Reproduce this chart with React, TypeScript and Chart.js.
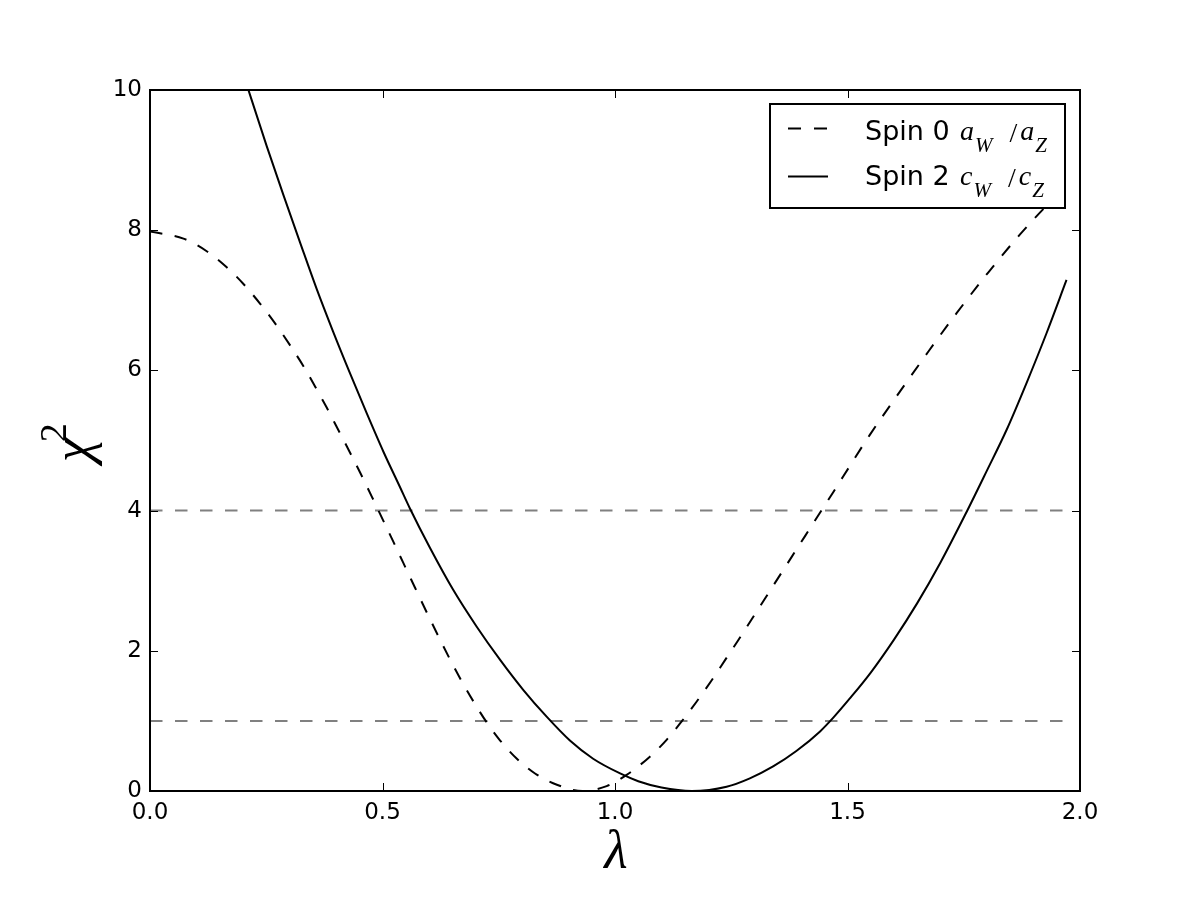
import React, { useEffect, useRef } from "react";
import { Chart, registerables } from "chart.js";

Chart.register(...registerables);

// ---- data ----
const spin0Lambda = [
  0, 0.072, 0.122, 0.165, 0.2, 0.237, 0.269, 0.301, 0.33, 0.355, 0.38, 0.405, 0.43, 0.455,
  0.477, 0.495, 0.523, 0.545, 0.57, 0.595, 0.62, 0.645, 0.67, 0.699, 0.724, 0.753, 0.789,
  0.828, 0.875, 0.93, 0.982, 1.025, 1.075, 1.111, 1.143, 1.175, 1.208, 1.237, 1.265, 1.294,
  1.323, 1.351, 1.38, 1.409, 1.437, 1.47, 1.491, 1.548, 1.613, 1.674, 1.735, 1.803, 1.871,
  1.921, 1.97,
];
const spin0Chi2 = [
  7.98, 7.88, 7.7, 7.47, 7.24, 6.95, 6.67, 6.36, 6.06, 5.77, 5.47, 5.15, 4.83, 4.5, 4.2,
  3.95, 3.56, 3.25, 2.9, 2.55, 2.21, 1.88, 1.57, 1.24, 0.98, 0.72, 0.46, 0.25, 0.09, 0.0,
  0.07, 0.23, 0.49, 0.73, 0.99, 1.27, 1.58, 1.87, 2.15, 2.45, 2.75, 3.04, 3.34, 3.64, 3.93,
  4.27, 4.49, 5.08, 5.7, 6.27, 6.82, 7.4, 7.94, 8.3, 8.62,
];
const spin2Lambda = [
  0.2, 0.251, 0.287, 0.323, 0.358, 0.394, 0.43, 0.466, 0.502, 0.538, 0.559, 0.602, 0.652,
  0.703, 0.753, 0.803, 0.853, 0.903, 0.953, 1.011, 1.05, 1.1, 1.165, 1.24, 1.29, 1.34, 1.39,
  1.441, 1.47, 1.505, 1.55, 1.6, 1.65, 1.7, 1.753, 1.799, 1.842, 1.885, 1.928, 1.971,
];
const spin2Chi2 = [
  10.24, 9.2, 8.5, 7.82, 7.17, 6.55, 5.96, 5.39, 4.84, 4.33, 4.03, 3.47, 2.87, 2.34, 1.87,
  1.44, 1.06, 0.72, 0.46, 0.25, 0.14, 0.05, 0.0, 0.06, 0.18, 0.35, 0.57, 0.85, 1.05, 1.32,
  1.69, 2.16, 2.68, 3.26, 3.94, 4.56, 5.15, 5.82, 6.53, 7.29,
];
const refLevels = [4, 1];
const refLambdaRange = [0, 1.97];
const xTicks = [0, 0.5, 1.0, 1.5, 2.0];
const yTicks = [0, 2, 4, 6, 8, 10];
const legendLabels = ["Spin 0", "Spin 2"];
const legendMath = [
  ["a", "W", "a", "Z"],
  ["c", "W", "c", "Z"],
];
const xTitle = "λ";
const yTitle = "χ";
const yTitleSup = "2";

const MATH_FONT = "'Liberation Serif', 'DejaVu Serif', serif";
const SANS = "'DejaVu Sans', sans-serif";

const decorPlugin = {
  id: "decor",
  afterDraw(chart: any) {
    const { ctx, chartArea: a, scales } = chart;
    const xs = scales.x;
    const ys = scales.y;
    ctx.save();
    // inward ticks on all four sides
    ctx.strokeStyle = "#000";
    ctx.lineWidth = 1;
    ctx.setLineDash([]);
    ctx.beginPath();
    xTicks.forEach((v) => {
      const p = Math.round(xs.getPixelForValue(v)) + 0.5;
      ctx.moveTo(p, a.bottom);
      ctx.lineTo(p, a.bottom - 8);
      ctx.moveTo(p, a.top);
      ctx.lineTo(p, a.top + 8);
    });
    yTicks.forEach((v) => {
      const p = Math.round(ys.getPixelForValue(v)) + 0.5;
      ctx.moveTo(a.left, p);
      ctx.lineTo(a.left + 8, p);
      ctx.moveTo(a.right, p);
      ctx.lineTo(a.right - 8, p);
    });
    ctx.stroke();
    // frame
    ctx.lineWidth = 2;
    ctx.strokeRect(a.left, a.top, a.right - a.left, a.bottom - a.top);

    // legend
    const bx = a.right - 310;
    const by = a.top + 14;
    const bw = 295;
    const bh = 104;
    ctx.fillStyle = "#fff";
    ctx.fillRect(bx, by, bw, bh);
    ctx.strokeStyle = "#000";
    ctx.lineWidth = 2;
    ctx.strokeRect(bx, by, bw, bh);
    const sampleY = [by + 24.5, by + 72.5];
    const textBase = [by + 36, by + 81];
    legendLabels.forEach((label, i) => {
      const ly = sampleY[i];
      ctx.beginPath();
      ctx.setLineDash(i === 0 ? [13, 13] : []);
      ctx.lineWidth = 2;
      ctx.moveTo(bx + 18, ly);
      ctx.lineTo(bx + 58, ly);
      ctx.stroke();
      ctx.setLineDash([]);
      ctx.fillStyle = "#000";
      ctx.textBaseline = "alphabetic";
      ctx.textAlign = "left";
      ctx.font = `27px ${SANS}`;
      const base = textBase[i];
      ctx.fillText(label, bx + 95, base);
      let x = bx + 190;
      const m = legendMath[i];
      ctx.font = `italic 28px ${MATH_FONT}`;
      ctx.fillText(m[0], x, base);
      x += ctx.measureText(m[0]).width + 1;
      ctx.font = `italic 21px ${MATH_FONT}`;
      ctx.fillText(m[1], x, base + 12);
      x += ctx.measureText(m[1]).width + 17;
      ctx.font = `28px ${MATH_FONT}`;
      ctx.fillText("/", x, base + 2);
      x += ctx.measureText("/").width + 3;
      ctx.font = `italic 28px ${MATH_FONT}`;
      ctx.fillText(m[2], x, base);
      x += ctx.measureText(m[2]).width + 1;
      ctx.font = `italic 21px ${MATH_FONT}`;
      ctx.fillText(m[3], x, base + 12);
    });

    // x title
    ctx.fillStyle = "#000";
    ctx.font = `italic 54px ${MATH_FONT}`;
    ctx.textAlign = "center";
    ctx.textBaseline = "alphabetic";
    ctx.fillText(xTitle, (a.left + a.right) / 2 + 1, 868);

    // y title (rotated)
    ctx.save();
    ctx.translate(90, 462);
    ctx.rotate(-Math.PI / 2);
    ctx.textAlign = "left";
    ctx.font = `italic 54px ${MATH_FONT}`;
    ctx.fillText(yTitle, 0, 0);
    const w = ctx.measureText(yTitle).width;
    ctx.font = `38px ${MATH_FONT}`;
    ctx.fillText(yTitleSup, w - 4, -24);
    ctx.restore();

    ctx.restore();
  },
};

export default function App() {
  const ref = useRef<HTMLCanvasElement | null>(null);

  useEffect(() => {
    if (!ref.current) return;
    const refDatasets = refLevels.map((lvl) => ({
      label: `ref ${lvl}`,
      data: refLambdaRange.map((x) => ({ x, y: lvl })),
      borderColor: "#808080",
      borderWidth: 2,
      borderDash: [12.5, 12.5],
      pointRadius: 0,
      fill: false,
    }));
    const chart = new Chart(ref.current, {
      type: "line",
      data: {
        datasets: [
          {
            label: "Spin 0",
            data: spin0Lambda.map((x, i) => ({ x, y: spin0Chi2[i] })),
            borderColor: "#000",
            borderWidth: 2,
            borderDash: [12.5, 12.5],
            pointRadius: 0,
            fill: false,
            cubicInterpolationMode: "monotone",
          },
          {
            label: "Spin 2",
            data: spin2Lambda.map((x, i) => ({ x, y: spin2Chi2[i] })),
            borderColor: "#000",
            borderWidth: 2,
            pointRadius: 0,
            fill: false,
            cubicInterpolationMode: "monotone",
          },
          ...refDatasets,
        ],
      },
      options: {
        animation: false,
        responsive: false,
        devicePixelRatio: 1,
        layout: { padding: { left: 0, top: 90, right: 120, bottom: 0 } },
        plugins: { legend: { display: false }, tooltip: { enabled: false } },
        scales: {
          x: {
            type: "linear",
            min: 0,
            max: 2,
            grid: { display: false, drawTicks: false },
            border: { display: false },
            afterFit: (s: any) => {
              s.height = 109;
            },
            ticks: {
              stepSize: 0.5,
              padding: 8,
              color: "#000",
              font: { family: "DejaVu Sans", size: 23 },
              maxRotation: 0,
              callback: (v: any) => Number(v).toFixed(1),
            },
          },
          y: {
            type: "linear",
            min: 0,
            max: 10,
            grid: { display: false, drawTicks: false },
            border: { display: false },
            afterFit: (s: any) => {
              s.width = 150;
            },
            ticks: {
              stepSize: 2,
              padding: 8,
              color: "#000",
              font: { family: "DejaVu Sans", size: 23 },
              callback: (v: any) => String(v),
            },
          },
        },
      },
      plugins: [decorPlugin],
    } as any);
    return () => chart.destroy();
  }, []);

  return (
    <div style={{ position: "absolute", left: 0, top: 0, width: 1200, height: 900, background: "#fff" }}>
      <canvas ref={ref} width={1200} height={900} style={{ display: "block" }} />
    </div>
  );
}
